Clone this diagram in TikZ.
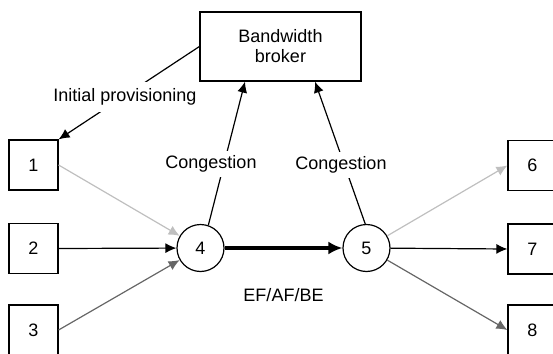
\documentclass[tikz,border=0pt]{standalone}
\usepackage{fontspec}
\setmainfont{Liberation Sans}
\usetikzlibrary{arrows.meta}
\definecolor{lightflow}{gray}{0.75}
\definecolor{darkflow}{gray}{0.4}
\begin{document}
\begin{tikzpicture}[x=0.5pt, y=-0.5pt, font=\fontsize{9pt}{10pt}\selectfont,
    box/.style={draw, line width=0.6pt, minimum width=24.5pt, minimum height=25pt, inner sep=0pt},
    router/.style={draw, circle, line width=0.6pt, minimum size=23.5pt, inner sep=0pt},
    flow/.style={line width=0.6pt, -{Latex[length=5.5pt,width=5pt]}},
    trunk/.style={line width=2pt, -{Latex[length=7pt,width=6.5pt]}},
    tag/.style={fill=white, inner sep=2.5pt}]
    \useasboundingbox (0,0) rectangle (553,354);
    \clip (0,0) rectangle (553,354);
    % broker
    \node [box, minimum width=80.5pt, minimum height=34.5pt, align=center] (bb) at (280.5,46.5) {Bandwidth\\broker};
    % edge hosts
    \node [box] (h1) at (33.5,165) {1};
    \node [box] (h2) at (33.5,248.5) {2};
    \node [box] (h3) at (33.5,330) {3};
    \node [box] (h6) at (532.5,165.5) {6};
    \node [box] (h7) at (532.5,249) {7};
    \node [box] (h8) at (532.5,330) {8};
    % routers
    \node [router] (r4) at (200.5,248) {4};
    \node [router] (r5) at (366.5,248) {5};
    % signalling
    \draw [flow] (bb.west) -- (h1.north east);
    \draw [flow] (r4.71) -- ([xshift=-17.75pt]bb.south);
    \draw [flow] (r5.93) -- ([xshift=17.25pt]bb.south);
    % traffic
    \draw [flow, lightflow] (h1.east) -- (r4);
    \draw [flow] (h2.east) -- (r4);
    \draw [flow, darkflow] (h3.east) -- (r4);
    \draw [trunk] (r4) -- (r5);
    \draw [flow, lightflow] (r5) -- (h6.west);
    \draw [flow] (r5) -- (h7.west);
    \draw [flow, darkflow] (r5) -- (h8.west);
    % labels
    \node [tag, inner sep=3.5pt] (ip) at (125,97) {Initial provisioning};
    \node [tag] (c4) at (211,164) {Congestion};
    \node [tag] (c5) at (341,165) {Congestion};
    \node (ef) at (283.5,295) {EF/AF/BE};
\end{tikzpicture}
\end{document}
